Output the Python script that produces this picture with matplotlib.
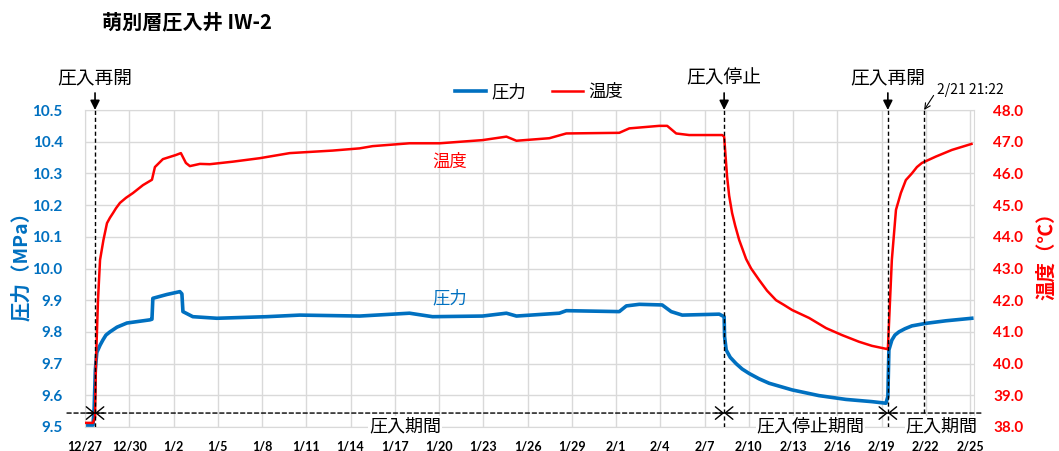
import matplotlib.pyplot as plt
import numpy as np

plt.rcParams["font.family"] = ["Noto Sans CJK JP", "DejaVu Sans"]

# time axis: days since 12/27 0:00
press_days = [0.0, 0.54, 0.62, 0.70, 0.80, 1.02, 1.22, 1.42, 1.69, 2.17, 2.84, 4.40,
              4.54, 4.60, 5.55, 6.43, 6.57, 6.64, 7.31, 8.94, 12.32, 14.56, 18.62,
              22.0, 23.56, 26.95, 28.57, 29.25, 32.16, 32.63, 36.22, 36.70, 37.58,
              39.13, 39.74, 40.49, 43.0, 43.33, 43.36, 43.47, 43.74, 44.14, 44.55,
              45.02, 45.70, 46.38, 47.94, 49.76, 51.59, 53.35, 54.30, 54.43, 54.50,
              54.70, 54.91, 55.18, 55.59, 56.06, 57.01, 58.36, 60.12]
press_mpa = [9.506, 9.506, 9.56, 9.68, 9.735, 9.758, 9.775, 9.79, 9.80, 9.815, 9.828,
             9.838, 9.840, 9.906, 9.918, 9.927, 9.920, 9.864, 9.848, 9.843, 9.848,
             9.853, 9.850, 9.859, 9.848, 9.850, 9.859, 9.850, 9.859, 9.867, 9.864,
             9.882, 9.887, 9.885, 9.864, 9.853, 9.856, 9.848, 9.785, 9.743, 9.72,
             9.700, 9.683, 9.669, 9.652, 9.638, 9.617, 9.599, 9.587, 9.580, 9.575,
             9.596, 9.743, 9.774, 9.79, 9.800, 9.81, 9.819, 9.827, 9.835, 9.843]

temp_days = [0.0, 0.54, 0.68, 0.74, 0.88, 1.02, 1.25, 1.49, 1.69, 1.90, 2.10, 2.37,
             2.78, 3.25, 3.93, 4.54, 4.74, 5.28, 6.16, 6.50, 6.84, 7.11, 7.79, 8.46,
             10.02, 11.85, 13.88, 16.79, 18.62, 19.50, 22.00, 24.04, 26.95, 28.57,
             29.25, 31.48, 32.63, 36.22, 36.90, 38.93, 39.47, 40.08, 40.96, 43.20,
             43.33, 43.53, 43.67, 43.87, 44.08, 44.35, 44.82, 45.16, 45.70, 46.24,
             46.85, 47.39, 47.94, 49.09, 50.24, 51.32, 52.47, 53.35, 54.37, 54.43,
             54.70, 54.98, 55.31, 55.65, 56.06, 56.40, 56.74, 57.68, 58.77, 60.10]
temp_c = [38.13, 38.13, 38.3, 40.0, 42.0, 43.27, 43.9, 44.43, 44.6, 44.75, 44.9,
          45.07, 45.23, 45.38, 45.63, 45.8, 46.2, 46.45, 46.58, 46.64, 46.33, 46.23,
          46.3, 46.29, 46.37, 46.48, 46.64, 46.72, 46.79, 46.86, 46.95, 46.95, 47.05,
          47.16, 47.03, 47.11, 47.26, 47.28, 47.42, 47.5, 47.5, 47.26, 47.21, 47.21,
          47.16, 45.9, 45.3, 44.75, 44.35, 43.9, 43.3, 43.0, 42.64, 42.3, 42.0, 41.85,
          41.69, 41.44, 41.12, 40.9, 40.69, 40.56, 40.46, 40.46, 43.27, 44.85, 45.38,
          45.79, 46.0, 46.2, 46.33, 46.53, 46.74, 46.93]

tick_days = list(range(0, 61, 3))
tick_labels = ["12/27", "12/30", "1/2", "1/5", "1/8", "1/11", "1/14", "1/17", "1/20",
               "1/23", "1/26", "1/29", "2/1", "2/4", "2/7", "2/10", "2/13", "2/16",
               "2/19", "2/22", "2/25"]

restart1_day = 0.68
stop_day = 43.33
restart2_day = 54.43
mark_day = 56.89  # 2/21 21:22
period_mpa = 9.544

BLUE = "#0070C0"
RED = "#FF0000"
GRID = "#D9D9D9"
DASH = (0, (3, 2))

fig = plt.figure(figsize=(10.59, 4.51), dpi=100)
ax = fig.add_axes([85 / 1059, 24 / 451, 889 / 1059, 317 / 451])
ax2 = ax.twinx()

l1, = ax.plot(press_days, press_mpa, color=BLUE, lw=2.6, label="圧力")
l2, = ax2.plot(temp_days, temp_c, color=RED, lw=1.8, label="温度")

ax.grid(color=GRID, lw=1)
ax.set_axisbelow(True)
for s in ax.spines.values():
    s.set_color(GRID)
for s in ax2.spines.values():
    s.set_visible(False)

ax.set_xticks(tick_days, labels=tick_labels, fontsize=9, fontweight="bold",
              family=["Lato", "DejaVu Sans"])
yt = np.round(np.arange(9.5, 10.51, 0.1), 1)
ax.set_yticks(yt, labels=[f"{v:.1f}" for v in yt], fontsize=11, fontweight="bold",
              color=BLUE, family=["Lato", "DejaVu Sans"])
yt2 = np.arange(38, 49, 1)
ax2.set_yticks(yt2, labels=[f"{v:.1f}" for v in yt2], fontsize=11, fontweight="bold",
               color=RED, family=["Lato", "DejaVu Sans"])
ax.tick_params(axis="x", length=0, pad=10)
ax.tick_params(axis="y", length=0, pad=16)
ax2.tick_params(axis="y", length=0, pad=14)

# event lines
for d in [restart1_day, stop_day, restart2_day, mark_day]:
    ax2.axvline(d, color="k", ls=DASH, lw=1, zorder=5)

top = ax.get_xaxis_transform()
for d, txt in [(restart1_day, "圧入再開"), (stop_day, "圧入停止"), (restart2_day, "圧入再開")]:
    ax2.annotate(txt, xy=(d, 1.0), xycoords=top, xytext=(d, 1.10), textcoords=top,
                 ha="center", va="center", fontsize=13.5,
                 arrowprops=dict(arrowstyle="-|>", color="k", lw=1.2, shrinkA=1,
                                 shrinkB=0, mutation_scale=14))
ax2.annotate("2/21 21:22", xy=(mark_day, 1.0), xycoords=top, xytext=(13, 20),
             textcoords="offset pixels", ha="left", va="center", fontsize=10,
             arrowprops=dict(arrowstyle="->", color="k", lw=0.8, shrinkA=1, shrinkB=0,
                             relpos=(0, 0.5), mutation_scale=10))

# period arrows
ax2.annotate("", xy=(60.75, period_mpa), xytext=(-1.22, period_mpa),
             xycoords=ax.transData, textcoords=ax.transData,
             arrowprops=dict(arrowstyle="-", ls=DASH, lw=1, color="k",
                             shrinkA=0, shrinkB=0))
head = "->,head_length=0.55,head_width=0.45"
for d in [restart1_day, stop_day, restart2_day]:
    for side in (-0.6, 0.6):
        ax2.annotate("", xy=(d, period_mpa), xytext=(d + side, period_mpa),
                     xycoords=ax.transData, textcoords=ax.transData,
                     arrowprops=dict(arrowstyle=head, lw=1, color="k",
                                     shrinkA=0, shrinkB=0))

box = dict(fc="white", ec="none", pad=0.5)
for d, txt in [(21.7, "圧入期間"), (49.2, "圧入停止期間"), (58.06, "圧入期間")]:
    ax2.text(d, 9.503, txt, transform=ax.transData, ha="center", va="center",
             fontsize=13, bbox=box, clip_on=False, zorder=6)

ax2.text(24.7, 46.36, "温度", color=RED, fontsize=12.5, ha="center", va="center")
ax.text(24.7, 9.907, "圧力", color=BLUE, fontsize=12.5, ha="center", va="center")

ax.set_xlim(0, 60.27)
ax.set_ylim(9.5, 10.5)
ax2.set_ylim(38, 48)

fig.text(102 / 1059, 1 - 22 / 451, "萌別層圧入井 IW-2", fontsize=14.5, fontweight="bold",
         ha="left", va="center")
fig.text(21 / 1059, 1 - 261 / 451, "圧力（MPa）", color=BLUE, fontsize=14,
         fontweight="bold", rotation=90, ha="center", va="center")
fig.text(1047 / 1059, 1 - 251 / 451, "温度（℃）", color=RED, fontsize=14,
         fontweight="bold", rotation=90, ha="center", va="center")

fig.legend(handles=[l1, l2], loc="center", bbox_to_anchor=(539 / 1059, 1 - 92 / 451),
           ncol=2, frameon=False, fontsize=12.5, handlelength=1.8, handletextpad=0.3,
           columnspacing=1.5)

plt.savefig("out.png", dpi=100)
